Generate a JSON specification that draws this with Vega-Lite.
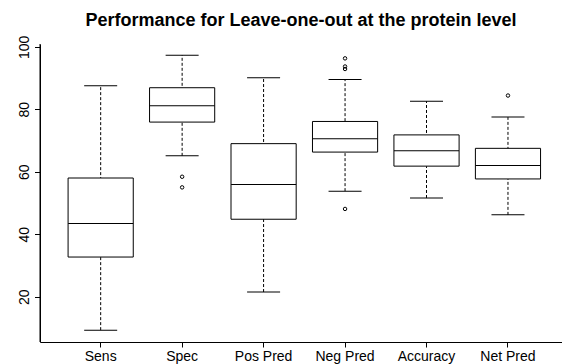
{
  "$schema": "https://vega.github.io/schema/vega-lite/v6.json",
  "width": 522,
  "height": 298,
  "autosize": "none",
  "padding": {"left": 40, "top": 44, "right": 0, "bottom": 22},
  "background": "white",
  "config": {"view": {"stroke": null}, "font": "Liberation Sans"},
  "title": {
    "text": "Performance for Leave-one-out at the protein level",
    "font": "Liberation Sans",
    "fontSize": 18,
    "fontWeight": "bold",
    "color": "black",
    "anchor": "middle",
    "frame": "group",
    "baseline": "alphabetic",
    "offset": -9,
    "dx": 0
  },
  "datasets": {
    "boxes": [
      {"name": "Sens", "lower": 9.3, "q1": 32.7, "median": 43.4, "q3": 58.0, "upper": 87.5},
      {"name": "Spec", "lower": 65.1, "q1": 75.9, "median": 81.1, "q3": 86.9, "upper": 97.3},
      {"name": "Pos Pred", "lower": 21.5, "q1": 44.8, "median": 55.9, "q3": 69.0, "upper": 90.1},
      {"name": "Neg Pred", "lower": 53.8, "q1": 66.3, "median": 70.6, "q3": 76.1, "upper": 89.5},
      {"name": "Accuracy", "lower": 51.6, "q1": 61.8, "median": 66.7, "q3": 71.8, "upper": 82.6},
      {"name": "Net Pred", "lower": 46.2, "q1": 57.7, "median": 62.0, "q3": 67.5, "upper": 77.5}
    ],
    "outliers": [
      {"name": "Spec", "value": 58.4},
      {"name": "Spec", "value": 55.0},
      {"name": "Neg Pred", "value": 96.3},
      {"name": "Neg Pred", "value": 93.7},
      {"name": "Neg Pred", "value": 92.9},
      {"name": "Neg Pred", "value": 48.1},
      {"name": "Net Pred", "value": 84.4}
    ]
  },
  "encoding": {
    "x": {
      "field": "name",
      "type": "nominal",
      "sort": ["Sens", "Spec", "Pos Pred", "Neg Pred", "Accuracy", "Net Pred"],
      "scale": {
        "type": "band",
        "domain": ["Sens", "Spec", "Pos Pred", "Neg Pred", "Accuracy", "Net Pred"],
        "paddingInner": 0,
        "paddingOuter": 0.204,
        "align": 0.6
      },
      "axis": {
        "title": null,
        "labelAngle": 0,
        "labelFont": "Liberation Sans",
        "labelFontSize": 14,
        "labelColor": "black",
        "labelBaseline": "alphabetic",
        "labelPadding": 13.5,
        "domainColor": "black",
        "tickColor": "black",
        "tickSize": 5,
        "grid": false
      }
    }
  },
  "layer": [
    {
      "data": {"name": "boxes"},
      "mark": {"type": "rule", "color": "black", "strokeWidth": 1, "strokeDash": [3, 2]},
      "encoding": {
        "y": {
          "field": "lower",
          "type": "quantitative",
          "scale": {"domain": [5.5, 100.9], "nice": false, "zero": false},
          "axis": {
            "title": null,
            "values": [20, 40, 60, 80, 100],
            "grid": false,
            "labelAngle": -90,
            "labelAlign": "center",
            "labelBaseline": "alphabetic",
            "labelFont": "Liberation Sans",
            "labelFontSize": 14,
            "labelColor": "black",
            "labelPadding": 6,
            "labelFlush": false,
            "labelOverlap": false,
            "domainColor": "black",
            "tickColor": "black",
            "tickSize": 5.5
          }
        },
        "y2": {"field": "upper"}
      }
    },
    {
      "data": {"name": "boxes"},
      "mark": {"type": "bar", "fill": "white", "stroke": "black", "strokeWidth": 1, "width": {"band": 0.8}, "opacity": 1},
      "encoding": {
        "y": {"field": "q1", "type": "quantitative"},
        "y2": {"field": "q3"}
      }
    },
    {
      "data": {"name": "boxes"},
      "mark": {"type": "tick", "color": "black", "size": 65, "thickness": 1, "opacity": 1},
      "encoding": {"y": {"field": "median", "type": "quantitative"}}
    },
    {
      "data": {"name": "boxes"},
      "mark": {"type": "tick", "color": "black", "size": 33, "thickness": 1, "opacity": 1},
      "encoding": {"y": {"field": "upper", "type": "quantitative"}}
    },
    {
      "data": {"name": "boxes"},
      "mark": {"type": "tick", "color": "black", "size": 33, "thickness": 1, "opacity": 1},
      "encoding": {"y": {"field": "lower", "type": "quantitative"}}
    },
    {
      "data": {"name": "outliers"},
      "mark": {"type": "point", "shape": "circle", "filled": false, "stroke": "black", "strokeWidth": 1, "size": 12, "opacity": 1},
      "encoding": {"y": {"field": "value", "type": "quantitative"}}
    },
    {
      "data": {"values": [{}]},
      "mark": {"type": "rule", "color": "black", "strokeWidth": 1},
      "encoding": {"y": {"datum": 100.9}}
    }
  ]
}
